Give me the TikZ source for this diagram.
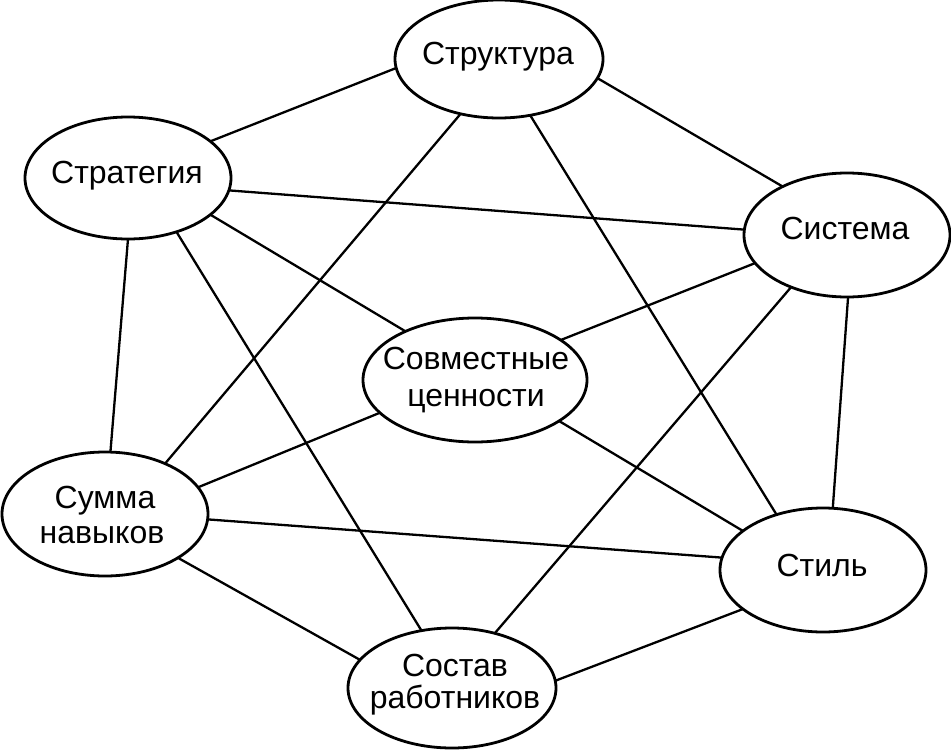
\documentclass[tikz,border=0pt]{standalone}
\usepackage{fontspec}
\setmainfont{Liberation Sans}
\usetikzlibrary{shapes.geometric}
\begin{document}
\begin{tikzpicture}[x=1pt,y=-1pt,
  oval/.style={ellipse, draw, line width=2.8pt, inner sep=0pt, outer sep=0pt},
  lbl/.style={anchor=base, inner sep=0pt, font=\fontsize{32}{35}\selectfont},
  link/.style={line width=2.3pt}]
\useasboundingbox (0,0) rectangle (951,750);
% ellipses
\node[oval, minimum width=208pt, minimum height=118pt] (struct) at (499,59) {};
\node[oval, minimum width=206pt, minimum height=122pt] (strat) at (128,178) {};
\node[oval, minimum width=206pt, minimum height=124pt] (sist) at (847,235) {};
\node[oval, minimum width=224pt, minimum height=124pt] (sovm) at (475,380) {};
\node[oval, minimum width=206pt, minimum height=124pt] (summa) at (105,514) {};
\node[oval, minimum width=206pt, minimum height=124pt] (stil) at (823,570) {};
\node[oval, minimum width=208pt, minimum height=120pt] (sostav) at (452,688) {};
% labels
\node[lbl] (struct-t) at (498,64) {Структура};
\node[lbl] (strat-t) at (127,183) {Стратегия};
\node[lbl] (sist-t) at (845,239) {Система};
\node[lbl] (sovm-t1) at (476,369) {Совместные};
\node[lbl] (sovm-t2) at (476,406) {ценности};
\node[lbl] (summa-t1) at (105,508) {Сумма};
\node[lbl] (summa-t2) at (102,543) {навыков};
\node[lbl] (stil-t) at (822,576) {Стиль};
\node[lbl] (sostav-t1) at (455,676) {Состав};
\node[lbl] (sostav-t2) at (455,708) {работников};
% connectors
\draw[link] (strat.24) -- (struct.185);
\draw[link] (strat.-7.6) -- (sist.177.2);
\draw[link] (strat.-24.7) -- (sovm.145.5);
\draw[link] (strat.-90.9) -- (summa.85.4);
\draw[link] (strat.-48.7) -- (sostav.118.7);
\draw[link] (struct.-125.3) -- (summa.40.2);
\draw[link] (struct.-11.7) -- (sist.143);
\draw[link] (struct.-61.6) -- (stil.130.1);
\draw[link] (sist.-163.3) -- (sovm.25);
\draw[link] (sist.-137.2) -- (sostav.52);
\draw[link] (sist.-89) -- (stil.81.7);
\draw[link] (sovm.-26.8) -- (stil.154.3);
\draw[link] (summa.-3.3) -- (stil.173.4);
\draw[link] (sostav.4.5) -- (stil.-154.6);
\draw[link] (summa.16.4) -- (sovm.-161.2);
\draw[link] (summa.-31.5) -- (sostav.163.9);
\end{tikzpicture}
\end{document}
